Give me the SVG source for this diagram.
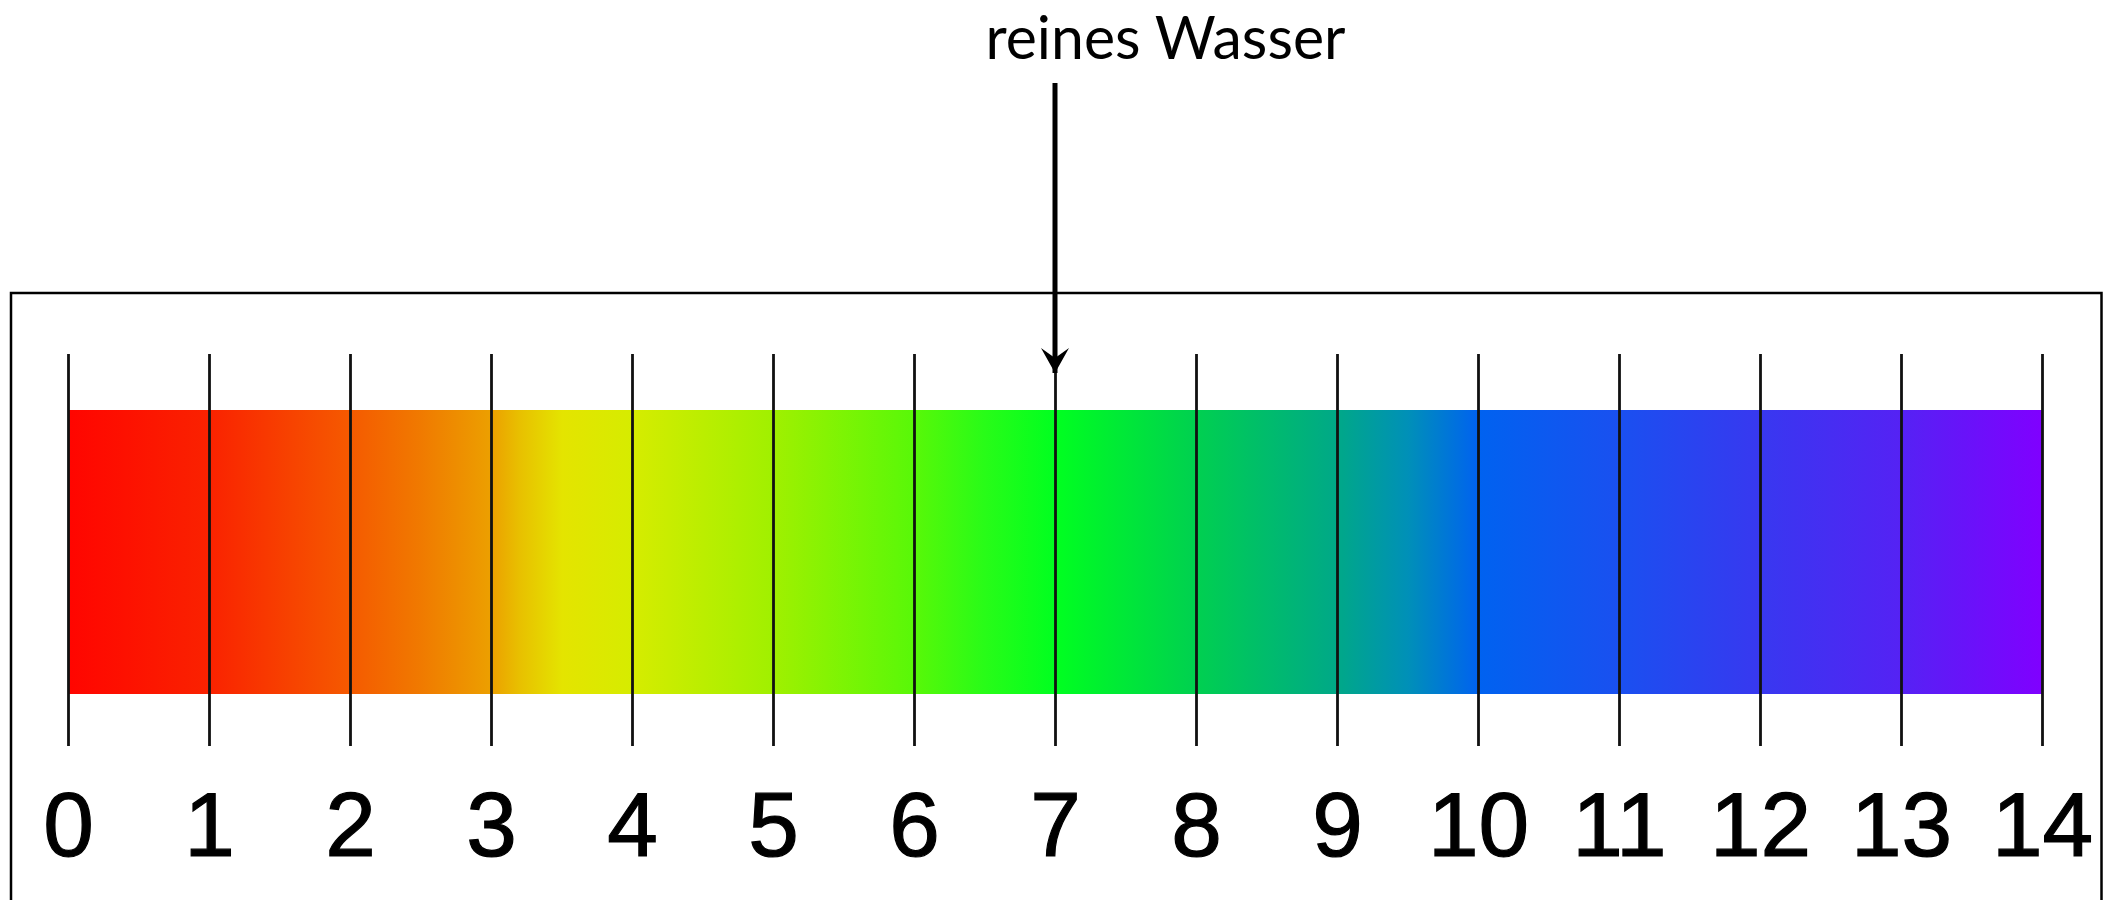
<svg xmlns="http://www.w3.org/2000/svg" width="2111" height="900" viewBox="0 0 2111 900">
<style>
.tick{stroke:#111;stroke-width:2.8;fill:none}
.num{font-family:"Liberation Sans",Arial,sans-serif;font-size:91px;fill:#000;stroke:#000;stroke-width:1.2;text-anchor:middle}
.title{font-family:Lato,"Noto Sans",sans-serif;font-size:60px;fill:#000;text-anchor:middle}
</style>
<defs>
<linearGradient id="ph" x1="68.5" y1="0" x2="2042.5" y2="0" gradientUnits="userSpaceOnUse">
<stop offset="0" stop-color="#ff0500"/>
<stop offset="0.0714" stop-color="#fa2200"/>
<stop offset="0.1429" stop-color="#f55a00"/>
<stop offset="0.1786" stop-color="#f07a00"/>
<stop offset="0.2143" stop-color="#eca000"/>
<stop offset="0.2286" stop-color="#e8c000"/>
<stop offset="0.25" stop-color="#e4e400"/>
<stop offset="0.2857" stop-color="#d6ec00"/>
<stop offset="0.3571" stop-color="#a0f000"/>
<stop offset="0.4286" stop-color="#58f808"/>
<stop offset="0.4643" stop-color="#28fc18"/>
<stop offset="0.5" stop-color="#00ff20"/>
<stop offset="0.5714" stop-color="#00d050"/>
<stop offset="0.6429" stop-color="#00a888"/>
<stop offset="0.6786" stop-color="#0090b8"/>
<stop offset="0.7143" stop-color="#0062f0"/>
<stop offset="0.7857" stop-color="#1a50f0"/>
<stop offset="0.8571" stop-color="#3838f0"/>
<stop offset="0.9286" stop-color="#5522f4"/>
<stop offset="1" stop-color="#8000ff"/>
</linearGradient>
<marker id="ah" markerUnits="userSpaceOnUse" markerWidth="28" markerHeight="32" viewBox="0 0 28 32" refX="25" refY="16" orient="auto">
<path d="M0,2 L25,16 L0,30 L10,16 Z" fill="#000"/>
</marker>
</defs>
<g id="frame">
<rect x="11" y="293" width="2090.5" height="700" fill="none" stroke="#000" stroke-width="2.5"/>
</g>
<g id="scale-bar">
<rect x="68.5" y="410" width="1974" height="284" fill="url(#ph)"/>
</g>
<g id="ticks">
<line class="tick" x1="68.5" y1="354" x2="68.5" y2="746"/>
<line class="tick" x1="209.5" y1="354" x2="209.5" y2="746"/>
<line class="tick" x1="350.5" y1="354" x2="350.5" y2="746"/>
<line class="tick" x1="491.5" y1="354" x2="491.5" y2="746"/>
<line class="tick" x1="632.5" y1="354" x2="632.5" y2="746"/>
<line class="tick" x1="773.5" y1="354" x2="773.5" y2="746"/>
<line class="tick" x1="914.5" y1="354" x2="914.5" y2="746"/>
<line class="tick" x1="1055.5" y1="354" x2="1055.5" y2="746"/>
<line class="tick" x1="1196.5" y1="354" x2="1196.5" y2="746"/>
<line class="tick" x1="1337.5" y1="354" x2="1337.5" y2="746"/>
<line class="tick" x1="1478.5" y1="354" x2="1478.5" y2="746"/>
<line class="tick" x1="1619.5" y1="354" x2="1619.5" y2="746"/>
<line class="tick" x1="1760.5" y1="354" x2="1760.5" y2="746"/>
<line class="tick" x1="1901.5" y1="354" x2="1901.5" y2="746"/>
<line class="tick" x1="2042.5" y1="354" x2="2042.5" y2="746"/>
</g>
<g id="labels">
<text class="num" x="68.5" y="856">0</text>
<text class="num" x="209.5" y="856">1</text>
<text class="num" x="350.5" y="856">2</text>
<text class="num" x="491.5" y="856">3</text>
<text class="num" x="632.5" y="856">4</text>
<text class="num" x="773.5" y="856">5</text>
<text class="num" x="914.5" y="856">6</text>
<text class="num" x="1055.5" y="856">7</text>
<text class="num" x="1196.5" y="856">8</text>
<text class="num" x="1337.5" y="856">9</text>
<text class="num" x="1478.5" y="856">10</text>
<text class="num" x="1619.5" y="856">11</text>
<text class="num" x="1760.5" y="856">12</text>
<text class="num" x="1901.5" y="856">13</text>
<text class="num" x="2042.5" y="856">14</text>
</g>
<g id="reines-wasser">
<text class="title" x="1165.5" y="59" textLength="360" lengthAdjust="spacingAndGlyphs">reines Wasser</text>
</g>
<g id="connectors">
<line x1="1055" y1="83" x2="1055" y2="373" stroke="#000" stroke-width="5" marker-end="url(#ah)"/>
</g>
</svg>
